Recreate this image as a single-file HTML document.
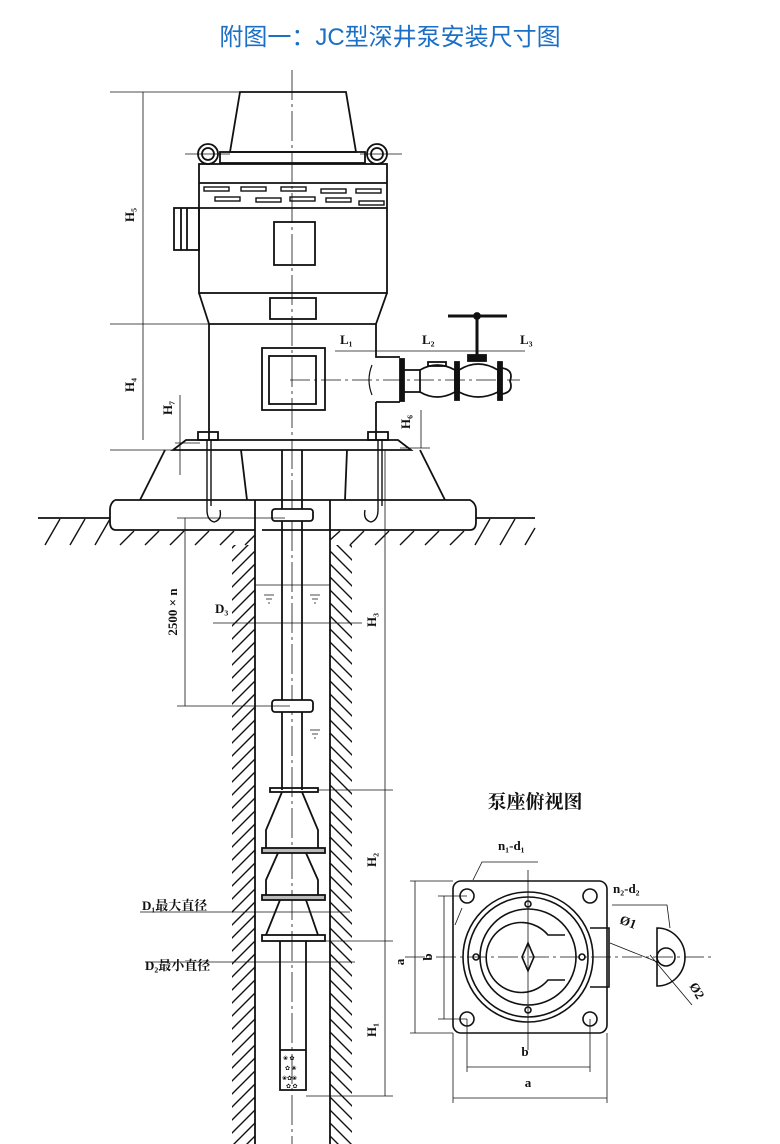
<!DOCTYPE html>
<html><head><meta charset="utf-8"><style>
body{margin:0;background:#fff;width:780px;height:1144px;overflow:hidden}
svg{display:block}
.t{font-family:"Liberation Serif","Noto Serif CJK SC",serif;fill:#111}
</style></head><body>
<svg width="780" height="1144" viewBox="0 0 780 1144" xmlns="http://www.w3.org/2000/svg">
<defs>
<pattern id="hl" width="13" height="13" patternUnits="userSpaceOnUse"><path d="M-2,15 L15,-2 M-2,2 L2,-2 M11,15 L15,11" stroke="#111" stroke-width="1.4"/></pattern>
<pattern id="hr" width="13" height="13" patternUnits="userSpaceOnUse"><path d="M-2,-2 L15,15 M11,-2 L15,2 M-2,11 L2,15" stroke="#111" stroke-width="1.4"/></pattern>
</defs>
<text x="390" y="45" text-anchor="middle" font-family="Liberation Sans,'Noto Sans CJK SC',sans-serif" font-size="24" fill="#1b6fc4">附图一：JC型深井泵安装尺寸图</text>

<g fill="none" stroke="#111" stroke-width="1.8">
<line x1="292" y1="70" x2="292" y2="1144" stroke-width="0.8" stroke-dasharray="30,4,3,4"/>
<path d="M240,92 L346,92 L356,152 L230,152 Z"/>
<rect x="220" y="152" width="145" height="11"/>
<circle cx="208" cy="154" r="10"/><circle cx="208" cy="154" r="6"/>
<circle cx="377" cy="154" r="10"/><circle cx="377" cy="154" r="6"/>
<line x1="185" y1="154" x2="230" y2="154" stroke-width="0.7"/><line x1="360" y1="154" x2="402" y2="154" stroke-width="0.7"/>
<rect x="199" y="164" width="188" height="129"/>
<line x1="199" y1="183" x2="387" y2="183"/><line x1="199" y1="208" x2="387" y2="208"/>
<g stroke-width="1.4">
<rect x="204" y="187" width="25" height="4"/><rect x="241" y="187" width="25" height="4"/><rect x="281" y="187" width="25" height="4"/><rect x="321" y="189" width="25" height="4"/><rect x="356" y="189" width="25" height="4"/>
<rect x="215" y="197" width="25" height="4"/><rect x="256" y="198" width="25" height="4"/><rect x="290" y="197" width="25" height="4"/><rect x="326" y="198" width="25" height="4"/><rect x="359" y="201" width="25" height="4"/>
</g>
<rect x="174" y="208" width="25" height="42"/><line x1="181" y1="208" x2="181" y2="250"/><line x1="187" y1="208" x2="187" y2="250"/>
<rect x="274" y="222" width="41" height="43"/>
<path d="M199,293 L209,324 M387,293 L376,324"/>
<rect x="270" y="298" width="46" height="21"/>
<line x1="209" y1="324" x2="376" y2="324"/>
<path d="M209,324 L209,440 M376,324 L376,357 L400,357 M376,402 L400,402 M376,402 L376,440"/>
<rect x="262" y="348" width="63" height="62"/><rect x="269" y="356" width="47" height="48"/>
<path d="M372,365 Q366,380 372,395" stroke-width="1.2"/>
<rect x="400" y="359" width="4" height="42" fill="#111"/>
<path d="M404,370 L420,370 M404,392 L420,392"/>
<path d="M420,370 Q437,360 455,370 L455,392 Q437,402 420,392 Z"/>
<rect x="428" y="362" width="18" height="4"/>
<rect x="455" y="362" width="4" height="38" fill="#111"/>
<path d="M459,370 Q478,358 498,370 L498,392 Q478,402 459,392 Z"/>
<rect x="468" y="355" width="18" height="6" fill="#111"/>
<line x1="477" y1="316" x2="477" y2="355" stroke-width="3"/>
<line x1="448" y1="316" x2="507" y2="316" stroke-width="3"/>
<circle cx="477" cy="316" r="3" fill="#111"/>
<rect x="498" y="362" width="4" height="38" fill="#111"/>
<path d="M502,368 Q514,370 510,381 Q514,392 502,394"/>
<line x1="290" y1="380" x2="520" y2="380" stroke-width="0.7" stroke-dasharray="20,4,3,4"/>
<path d="M173,450 L186,440 L398,440 L411,450 Z"/>
<rect x="198" y="432" width="20" height="8"/><rect x="368" y="432" width="20" height="8"/>
<path d="M165,450 L140,500 M420,450 L445,500 M241,450 L247,500 M347,450 L345,500"/>
<path d="M115,500 L470,500 Q476,503 476,510 L476,522 Q476,530 470,530 L262,530 M115,500 Q110,503 110,510 L110,522 Q110,530 116,530 L255,530"/>
<path d="M207,440 L207,510 Q207,520 214,522 Q222,520 220,510 M211,440 L211,506" stroke-width="1.4"/>
<path d="M378,440 L378,510 Q378,520 371,522 Q363,520 365,510 M382,440 L382,506" stroke-width="1.4"/>
<line x1="38" y1="518" x2="110" y2="518"/><line x1="476" y1="518" x2="535" y2="518"/>
</g>
<g stroke="#111" stroke-width="1.4">
<path d="M45,545 L60,519 M70,545 L85,519 M95,545 L110,519 M120,545 L134,531 M145,545 L159,531 M170,545 L184,531 M195,545 L209,531 M220,545 L234,531 M245,545 L255,535"/>
<path d="M330,540 L340,531 M350,545 L364,531 M375,545 L389,531 M400,545 L414,531 M425,545 L439,531 M450,545 L464,531 M475,545 L490,519 M500,545 L515,519 M525,545 L535,528"/>
</g>
<rect x="232" y="545" width="23" height="599" fill="url(#hl)"/>
<rect x="330" y="545" width="22" height="599" fill="url(#hr)"/>
<g fill="none" stroke="#111" stroke-width="1.8">
<line x1="255" y1="500" x2="255" y2="1144"/><line x1="330" y1="500" x2="330" y2="1144"/>
<line x1="282" y1="450" x2="282" y2="790"/><line x1="302" y1="450" x2="302" y2="790"/>
<rect x="272" y="509" width="41" height="12" rx="3" fill="#fff"/>
<rect x="272" y="700" width="41" height="12" rx="3" fill="#fff"/>
<rect x="270" y="788" width="48" height="4"/>
<path d="M282,792 L266,830 L266,850 M302,792 L318,830 L318,850"/>
<rect x="262" y="848" width="63" height="5" fill="#bbb"/>
<path d="M278,853 L266,880 L266,895 M306,853 L318,880 L318,895"/>
<rect x="262" y="895" width="63" height="5" fill="#bbb"/>
<path d="M280,900 L266,935 M306,900 L318,935"/>
<rect x="262" y="935" width="63" height="6"/>
<path d="M280,941 L280,1090 L306,1090 L306,941 M280,1050 L306,1050"/>
</g>
<g fill="#111" font-size="6"><text x="283" y="1060">❀ ✿</text><text x="285" y="1070">✿ ❀</text><text x="282" y="1080">❀✿❀</text><text x="286" y="1088">✿ ✿</text></g>
<g stroke="#111" stroke-width="0.8" fill="none">
<path d="M264,595 L274,595 M266,599 L272,599 M268,603 L270,603 M310,595 L320,595 M312,599 L318,599 M314,603 L316,603 M310,730 L320,730 M312,734 L318,734 M314,738 L316,738"/>
<line x1="255" y1="585" x2="330" y2="585"/>
<line x1="110" y1="92" x2="240" y2="92"/>
<line x1="143" y1="92" x2="143" y2="440"/>
<line x1="110" y1="324" x2="209" y2="324"/>
<line x1="110" y1="450" x2="173" y2="450"/>
<line x1="180" y1="395" x2="180" y2="475"/>
<line x1="175" y1="443" x2="200" y2="443"/>
<line x1="177" y1="518" x2="285" y2="518"/>
<line x1="185" y1="518" x2="185" y2="706"/>
<line x1="177" y1="706" x2="290" y2="706"/>
<line x1="213" y1="623" x2="362" y2="623"/>
<line x1="140" y1="912" x2="350" y2="912"/>
<line x1="145" y1="962" x2="355" y2="962"/>
<line x1="421" y1="410" x2="421" y2="448"/>
<line x1="400" y1="448" x2="430" y2="448"/>
<line x1="385" y1="450" x2="385" y2="1096"/>
<line x1="318" y1="790" x2="393" y2="790"/>
<line x1="325" y1="941" x2="393" y2="941"/>
<line x1="306" y1="1096" x2="393" y2="1096"/>
<line x1="335" y1="351" x2="525" y2="351"/>
</g>
<g class="t" font-size="13" font-weight="bold">
<text transform="translate(134,215) rotate(-90)" text-anchor="middle">H₅</text>
<text transform="translate(134,385) rotate(-90)" text-anchor="middle">H₄</text>
<text transform="translate(172,408) rotate(-90)" text-anchor="middle">H₇</text>
<text transform="translate(410,422) rotate(-90)" text-anchor="middle">H₆</text>
<text x="340" y="344">L₁</text><text x="422" y="344">L₂</text><text x="520" y="344">L₃</text>
<text transform="translate(177,612) rotate(-90)" text-anchor="middle">2500 × n</text>
<text x="215" y="613">D₃</text>
<text transform="translate(376,620) rotate(-90)" text-anchor="middle">H₃</text>
<text transform="translate(376,860) rotate(-90)" text-anchor="middle">H₂</text>
<text transform="translate(376,1030) rotate(-90)" text-anchor="middle">H₁</text>
<text transform="translate(404,962) rotate(-90)" text-anchor="middle">a</text>
<text x="142" y="910">D₁最大直径</text>
<text x="145" y="970">D₂最小直径</text>
</g>
<text class="t" x="535" y="808" text-anchor="middle" font-size="19" font-weight="bold">泵座俯视图</text>
<g fill="none" stroke="#111" stroke-width="1.6">
<rect x="453" y="881" width="154" height="152" rx="8"/>
<path d="M590,928 L609,928 L609,987 L590,987"/>
<circle cx="528" cy="957" r="65"/><circle cx="528" cy="957" r="60"/><circle cx="528" cy="957" r="48"/>
<path d="M565,935 L548,935 A35,35 0 1 0 548,980 L565,980"/>
<path d="M528,943 L534,957 L528,971 L522,957 Z"/>
<circle cx="467" cy="896" r="7"/><circle cx="590" cy="896" r="7"/><circle cx="467" cy="1019" r="7"/><circle cx="590" cy="1019" r="7"/>
<circle cx="528" cy="904" r="3"/><circle cx="528" cy="1010" r="3"/><circle cx="476" cy="957" r="3"/><circle cx="582" cy="957" r="3"/>
<path d="M657,928 A28,29 0 0 1 657,986 Z"/><circle cx="666" cy="957" r="9"/>
</g>
<g stroke="#111" stroke-width="0.8" fill="none">
<line x1="405" y1="957" x2="715" y2="957" stroke-dasharray="20,4,3,4"/>
<line x1="528" y1="870" x2="528" y2="1050"/>
<line x1="410" y1="881" x2="453" y2="881"/><line x1="410" y1="1033" x2="453" y2="1033"/>
<line x1="415" y1="881" x2="415" y2="1033"/>
<line x1="438" y1="896" x2="467" y2="896"/><line x1="438" y1="1019" x2="467" y2="1019"/>
<line x1="444" y1="896" x2="444" y2="1019"/>
<line x1="467" y1="1019" x2="467" y2="1072"/><line x1="590" y1="1019" x2="590" y2="1072"/>
<line x1="467" y1="1067" x2="590" y2="1067"/>
<line x1="453" y1="1033" x2="453" y2="1103"/><line x1="607" y1="1033" x2="607" y2="1103"/>
<line x1="453" y1="1098" x2="607" y2="1098"/>
<path d="M538,862 L482,862 L473,880 M462,908 L455,925"/>
<path d="M612,905 L667,905 L670,928"/>
<path d="M610,943 L660,963 M650,955 L692,1005"/>
</g>
<g class="t" font-size="13" font-weight="bold">
<text x="498" y="850">n₁-d₁</text>
<text x="613" y="893">n₂-d₂</text>
<text x="620" y="927" transform="rotate(20,630,922)">Ø1</text>
<text x="690" y="992" transform="rotate(60,695,988)">Ø2</text>
<text x="525" y="1056" text-anchor="middle">b</text>
<text x="528" y="1087" text-anchor="middle">a</text>
<text transform="translate(432,957) rotate(-90)" text-anchor="middle">b</text>
</g>
</svg>
</body></html>
